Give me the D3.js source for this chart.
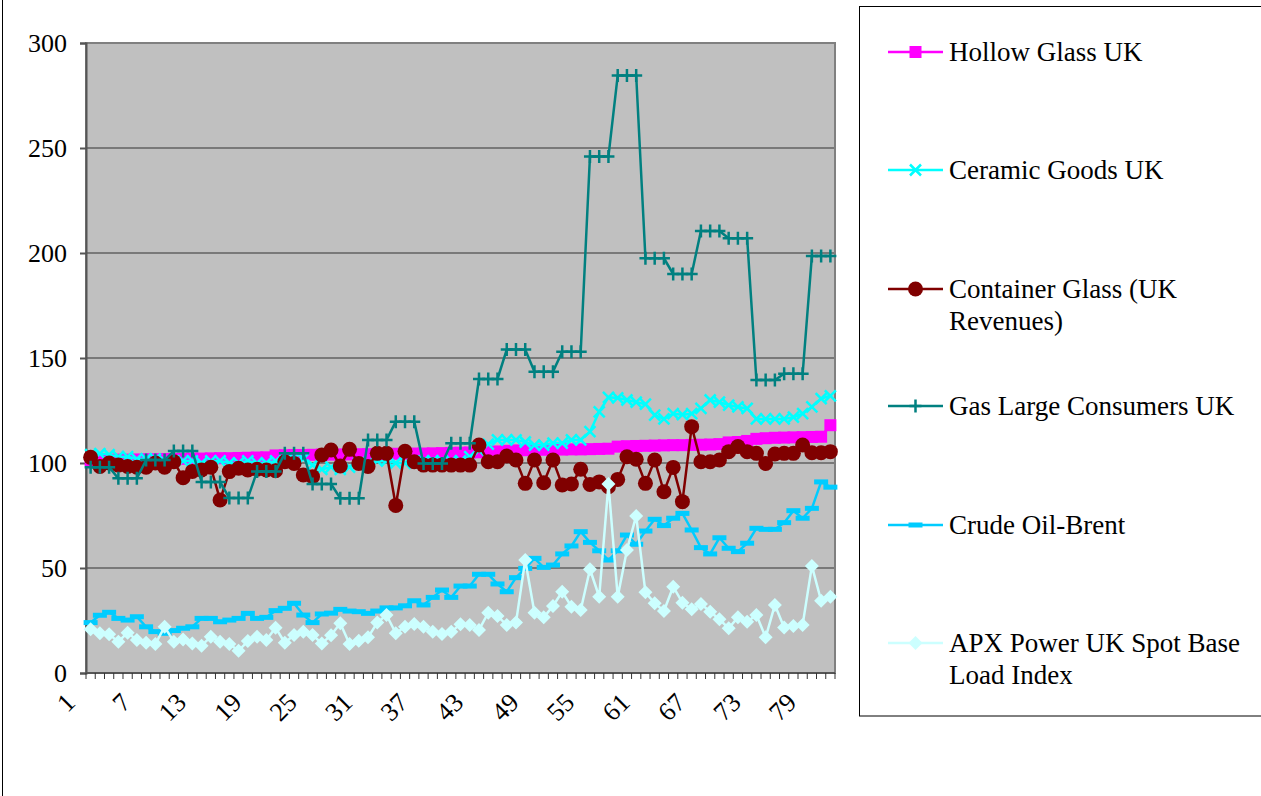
<!DOCTYPE html>
<html>
<head>
<meta charset="utf-8">
<script src="https://cdnjs.cloudflare.com/ajax/libs/d3/7.8.5/d3.min.js"></script>
<style>
  body { margin: 0; background: #fff; }
  svg text { font-family: "Liberation Serif", "Times New Roman", serif; font-size: 26px; fill: #000; }
  .legend text { font-size: 27px; }
</style>
</head>
<body>
<div id="container"></div>
<script>
const months = d3.range(1, 82);
const xTickLabels = [1, 7, 13, 19, 25, 31, 37, 43, 49, 55, 61, 67, 73, 79];
const yTicks = [0, 50, 100, 150, 200, 250, 300];

const hollowGlass = [101.4,101.5,101.5,101.6,101.6,101.7,101.8,101.8,101.9,101.9,
  102.0,102.1,102.1,102.2,102.3,102.3,102.4,102.5,102.6,102.7,
  103.6,103.7,103.8,103.8,103.9,104.0,104.0,104.1,104.1,104.2,
  104.2,104.3,104.3,104.4,104.4,104.5,104.5,104.6,104.7,104.8,
  104.9,105.0,105.1,105.3,105.5,105.8,106.0,106.1,106.2,106.3,
  106.3,106.4,106.5,106.5,106.6,106.7,106.8,107.8,108.0,108.1,
  108.2,108.3,108.4,108.5,108.5,108.6,108.7,108.8,109.0,109.8,
  110.0,110.5,111.5,111.8,112.0,112.1,112.2,112.3,112.4,112.5,
  118.0];
const ceramicGoods = [104,104.5,104,103,103,102,102,102,101,101,
  101,101,100,101,101,100,100,101,100,100,
  101,101,102,102,99,97,98,97,98,100,
  100,101,101,100,100,100,101,101,101,101,
  101,103,106,109,111,111,111,110,108.5,108.5,
  109.5,109.5,111,111,114.9,124.4,131.3,131,130,129,
  128,122.8,121,123.5,123,123.5,126,130,129,127.6,
  126.7,126,121,121,121,121,121.8,123.5,126.7,130.7,
  132];
const containerGlass = [102.7,98.3,100,99,98.3,98,98,100,98,100.6,
  93,96,96.7,98,82.4,95.9,97.5,96.7,97,96.7,
  96.3,100.6,99.8,94.3,93.5,103.8,106.2,98.6,106.5,99.8,
  98.3,104.6,104.6,79.8,105.6,100.6,99,99,99,99,
  99,99,108.6,100.6,100.6,103.3,101.4,90.3,101.4,90.6,
  101.4,89.5,90,97,89.8,91,88.7,92.2,103,101.8,
  90.3,101.4,86.3,97.9,81.6,117.3,100.6,100.6,101.4,105.4,
  107.8,105.4,104.6,99.8,104.3,104.6,104.6,108.6,104.9,104.9,
  105.4];
const gasLarge = [98,98,98,92.7,92.7,92.7,101.4,101.4,101.4,105.7,
  105.7,105.7,91,91,91,83.3,83.3,83.3,96,96,
  96,104.6,104.6,104.6,90,90,90,83.2,83.2,83.2,
  111,111,111,119.7,119.7,119.7,99.8,99.8,99.8,109.4,
  109.4,109.4,140,140,140,154,154,154,143.5,143.5,
  143.5,153,153,153,246,246,246,284.5,284.5,284.5,
  197.5,197.5,197.5,190,190,190,210.5,210.5,210.5,207,
  207,207,139.5,139.5,139.5,142.5,142.5,142.5,198.6,198.6,
  198.6];
const crudeOil = [24,27.5,28.9,26,25.2,26.8,22,19.7,18.9,20.2,
  21.3,22,26,26,24.4,25.2,26,28.4,26,26.5,
  29.7,30.8,33.2,27.6,24,28.1,28.5,30.3,29.5,29.2,
  28.4,29.5,31,31,32,34.4,32.4,36,39.5,36,
  41.4,41.4,47,47,42.4,38.7,45.4,49.8,54.6,50.3,
  51.4,56.7,60.5,67.3,62.2,58.2,53.8,58.2,65.7,61.3,
  67.6,73.2,70.2,73.7,76,68.1,59.7,56.7,64.4,59.4,
  57.8,61.8,68.9,68.4,68.4,71.6,77.3,73.7,78.4,91,
  88.5];
const apxPower = [20.8,18.9,18.4,14.9,19.2,15.7,14.4,13.8,22,14.9,
  16,14.1,13,17.3,14.9,13.8,10.6,15.2,17.3,15.7,
  21.6,14.4,18.1,19.7,18.1,14.1,18,23.7,13.8,15.4,
  17,24,27.6,18.9,22,23.3,22,19.7,18.6,19.7,
  23.2,22.9,20.5,28.7,27.1,22.9,24,53.8,28.7,26.5,
  31.9,38.7,31.6,30,49.4,36.3,90,36.3,58.6,74.8,
  38.4,33.2,29.5,41.1,33.5,30.3,32.9,29.2,25.6,21.3,
  26.5,24.4,27.6,17,32.4,21.7,22.4,22.9,51,34.4,
  36.3];

const series = [
  {name: ["Hollow Glass UK"], values: hollowGlass, color: "#ff00ff", marker: "square"},
  {name: ["Ceramic Goods UK"], values: ceramicGoods, color: "#00ffff", marker: "x"},
  {name: ["Container Glass (UK", "Revenues)"], values: containerGlass, color: "#800000", marker: "circle"},
  {name: ["Gas Large Consumers UK"], values: gasLarge, color: "#008080", marker: "plus"},
  {name: ["Crude Oil-Brent"], values: crudeOil, color: "#00ccff", marker: "dash"},
  {name: ["APX Power UK Spot Base", "Load Index"], values: apxPower, color: "#ccffff", marker: "diamond"}
];

const w = 1261, h = 796;
const plotLeft = 86, plotRight = 835, plotTop = 43, plotBottom = 673;

const svg = d3.select("#container").append("svg")
  .attr("width", w).attr("height", h);

// outer chart frame
svg.append("rect").attr("x", 2.5).attr("y", -10).attr("width", 1400).attr("height", 1000)
  .attr("fill", "#fff").attr("stroke", "#000");

const xScale = d3.scaleBand().domain(months).range([plotLeft, plotRight]);
const yScale = d3.scaleLinear().domain([0, 300]).range([plotBottom, plotTop]);
const cx = d => xScale(d) + xScale.bandwidth() / 2;

svg.append("rect").attr("x", plotLeft).attr("y", plotTop)
  .attr("width", plotRight - plotLeft).attr("height", plotBottom - plotTop)
  .attr("fill", "#c0c0c0");

// gridlines
svg.append("g").selectAll("line").data(yTicks.filter(t => t > 0)).enter().append("line")
  .attr("x1", plotLeft).attr("x2", plotRight)
  .attr("y1", d => yScale(d)).attr("y2", d => yScale(d))
  .attr("stroke", "#333").attr("stroke-width", 1);

svg.append("rect").attr("x", plotLeft).attr("y", plotTop)
  .attr("width", plotRight - plotLeft).attr("height", plotBottom - plotTop)
  .attr("fill", "none").attr("stroke", "#808080").attr("stroke-width", 2);

// y axis
const yAxis = d3.axisLeft(yScale).tickValues(yTicks).tickSize(6).tickPadding(13);
const gy = svg.append("g").attr("transform", "translate(" + plotLeft + ",0)").call(yAxis);
gy.select(".domain").attr("stroke", "#555").attr("stroke-width", 2);
gy.selectAll(".tick line").attr("stroke", "#555").attr("stroke-width", 2);
gy.selectAll("text").attr("font-size", null).attr("font-family", null).attr("dy", "0.34em");

// x axis: ticks between categories
const gx = svg.append("g");
gx.append("line").attr("x1", plotLeft).attr("x2", plotRight).attr("y1", plotBottom).attr("y2", plotBottom)
  .attr("stroke", "#555").attr("stroke-width", 2);
gx.selectAll("line.tk").data(months.concat([82])).enter().append("line")
  .attr("class", "tk")
  .attr("x1", d => d <= 81 ? xScale(d) : plotRight)
  .attr("x2", d => d <= 81 ? xScale(d) : plotRight)
  .attr("y1", plotBottom).attr("y2", plotBottom + 6)
  .attr("stroke", "#333").attr("stroke-width", 1);
gx.selectAll("text").data(xTickLabels).enter().append("text")
  .attr("text-anchor", "end")
  .attr("transform", d => "translate(" + (cx(d) - 14) + "," + (plotBottom + 31) + ") rotate(-45)")
  .text(d => d);

function drawMarker(g, type, color) {
  if (type === "square") {
    g.append("rect").attr("x", -6).attr("y", -6).attr("width", 12).attr("height", 12)
      .attr("fill", color);
  } else if (type === "x") {
    g.append("path").attr("d", "M-5.5,-5.5L5.5,5.5M-5.5,5.5L5.5,-5.5")
      .attr("stroke", color).attr("stroke-width", 2.5).attr("fill", "none");
  } else if (type === "circle") {
    g.append("circle").attr("r", 7.5).attr("fill", color);
  } else if (type === "plus") {
    g.append("path").attr("d", "M-6,0H6M0,-6.5V6.5")
      .attr("stroke", color).attr("stroke-width", 2.5).attr("fill", "none");
  } else if (type === "dash") {
    g.append("rect").attr("x", -7).attr("y", -2.5).attr("width", 14).attr("height", 5)
      .attr("fill", color);
  } else if (type === "diamond") {
    g.append("path").attr("d", "M0,-7L7,0L0,7L-7,0Z").attr("fill", color);
  }
}

const line = d3.line().x((d, i) => cx(months[i])).y(d => yScale(d));

series.forEach(s => {
  const g = svg.append("g");
  g.append("path").datum(s.values)
    .attr("d", line)
    .attr("fill", "none").attr("stroke", s.color).attr("stroke-width", 2.5)
    .attr("stroke-linejoin", "round");
  g.selectAll("g").data(s.values).enter().append("g")
    .attr("transform", (d, i) => "translate(" + cx(months[i]) + "," + yScale(d) + ")")
    .each(function() { drawMarker(d3.select(this), s.marker, s.color); });
});

// legend
const legend = svg.append("g").attr("class", "legend");
legend.append("rect").attr("x", 859.5).attr("y", 6.5).attr("width", 600).attr("height", 709.5)
  .attr("fill", "#fff").attr("stroke", "#000");
const legendY = [52, 170, 289, 406, 525, 643];
series.forEach((s, i) => {
  const g = legend.append("g").attr("transform", "translate(0," + legendY[i] + ")");
  g.append("line").attr("x1", 888).attr("x2", 943).attr("y1", 0).attr("y2", 0)
    .attr("stroke", s.color).attr("stroke-width", 2.5);
  const m = g.append("g").attr("transform", "translate(915.5,0)");
  drawMarker(m, s.marker, s.color);
  const t = g.append("text").attr("x", 949).attr("y", 9);
  s.name.forEach((n, j) => {
    t.append("tspan").attr("x", 949).attr("dy", j === 0 ? 0 : 32).text(n);
  });
});
</script>
</body>
</html>
